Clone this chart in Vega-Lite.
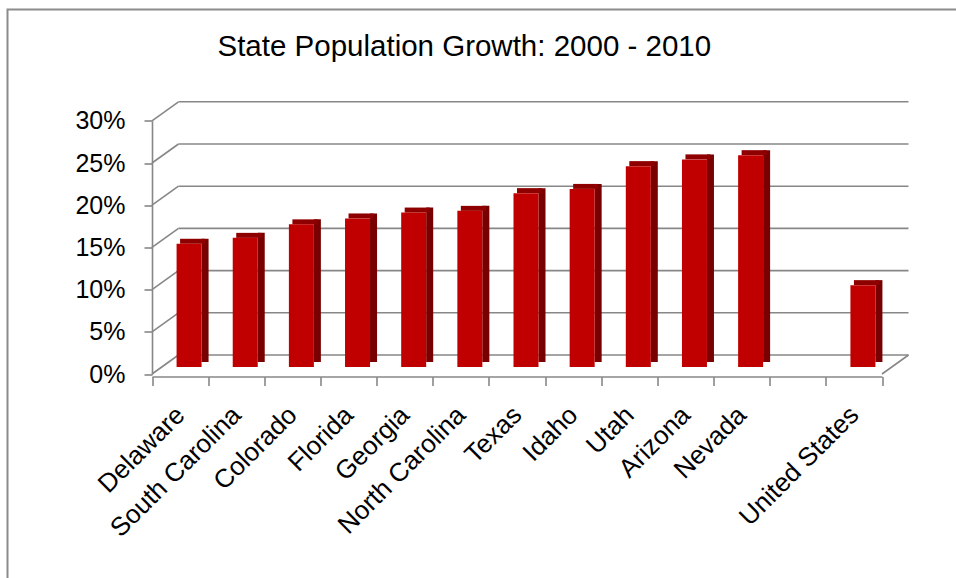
{
  "$schema": "https://vega.github.io/schema/vega-lite/v6.json",
  "autosize": {"type": "none"},
  "padding": {"left": 7.5, "top": 9.5, "right": 0, "bottom": 0},
  "width": 951,
  "height": 571,
  "background": "white",
  "config": {
    "view": {"stroke": "#8c8c8c", "strokeWidth": 2},
    "font": "Liberation Sans"
  },
  "title": {
    "text": "State Population Growth: 2000 - 2010",
    "font": "Liberation Sans",
    "fontSize": 29.5,
    "fontWeight": "normal",
    "color": "#000000",
    "anchor": "start",
    "frame": "group",
    "baseline": "alphabetic",
    "offset": 0,
    "dy": 76,
    "dx": 210
  },
  "datasets": {
    "states": [
      {"state": "Delaware", "growth": 0.146},
      {"state": "South Carolina", "growth": 0.153},
      {"state": "Colorado", "growth": 0.169},
      {"state": "Florida", "growth": 0.176},
      {"state": "Georgia", "growth": 0.183},
      {"state": "North Carolina", "growth": 0.185},
      {"state": "Texas", "growth": 0.206},
      {"state": "Idaho", "growth": 0.211},
      {"state": "Utah", "growth": 0.238},
      {"state": "Arizona", "growth": 0.246},
      {"state": "Nevada", "growth": 0.251},
      {"state": "United States", "growth": 0.097}
    ],
    "grid": [
      {"v": 0}, {"v": 0.05}, {"v": 0.1}, {"v": 0.15}, {"v": 0.2}, {"v": 0.25}, {"v": 0.3}
    ]
  },
  "layer": [
    {
      "data": {"name": "grid"},
      "mark": {"type": "rule", "color": "#878787", "strokeWidth": 1.6, "xOffset": -1.58, "x2Offset": 54.58, "yOffset": -19},
      "encoding": {
        "x": {"datum": "Delaware", "type": "nominal"},
        "x2": {"datum": "United States"},
        "y": {"field": "v", "type": "quantitative"}
      }
    },
    {
      "data": {"name": "grid"},
      "mark": {"type": "rule", "color": "#878787", "strokeWidth": 1.6, "xOffset": -28.08, "x2Offset": -1.58, "y2Offset": -19},
      "encoding": {
        "x": {"datum": "Delaware", "type": "nominal"},
        "x2": {"datum": "Delaware"},
        "y": {"field": "v", "type": "quantitative"},
        "y2": {"field": "v"}
      }
    },
    {
      "data": {"name": "grid"},
      "transform": [{"filter": "datum.v == 0"}],
      "mark": {"type": "rule", "color": "#878787", "strokeWidth": 1.6, "xOffset": 28.08, "x2Offset": 54.58, "y2Offset": -19},
      "encoding": {
        "x": {"datum": "United States", "type": "nominal"},
        "x2": {"datum": "United States"},
        "y": {"field": "v", "type": "quantitative"},
        "y2": {"field": "v"}
      }
    },
    {
      "data": {"name": "states"},
      "mark": {"type": "bar", "color": "#780000", "width": 7, "xOffset": 25, "yOffset": -12, "y2Offset": -7},
      "encoding": {
        "x": {"field": "state", "type": "nominal"},
        "y": {"field": "growth", "type": "quantitative"}
      }
    },
    {
      "data": {"name": "states"},
      "mark": {"type": "bar", "color": "#8e0000", "width": 25, "xOffset": 12.5, "yOffset": -12, "y2Offset": -7},
      "encoding": {
        "x": {"field": "state", "type": "nominal"},
        "y": {"field": "growth", "type": "quantitative"},
        "y2": {"field": "growth"}
      }
    },
    {
      "data": {"name": "states"},
      "mark": {"type": "bar", "color": "#c00000", "width": 25, "xOffset": 9, "yOffset": -7, "y2Offset": -7},
      "encoding": {
        "x": {
          "field": "state",
          "type": "nominal",
          "sort": null,
          "scale": {
            "domain": ["Delaware", "South Carolina", "Colorado", "Florida", "Georgia", "North Carolina", "Texas", "Idaho", "Utah", "Arizona", "Nevada", "", "United States"],
            "range": [144.5, 874.5],
            "paddingInner": 0,
            "paddingOuter": 0
          },
          "axis": {
            "title": null,
            "offset": -204,
            "tickBand": "extent",
            "domainColor": "#878787",
            "domainWidth": 1.6,
            "tickColor": "#878787",
            "tickWidth": 1.6,
            "tickSize": 9,
            "labelAngle": -45,
            "labelFont": "Liberation Sans",
            "labelFontSize": 26,
            "labelColor": "#000000",
            "labelPadding": 25,
            "labelOverlap": false,
            "labelBound": false,
            "labelFlush": false,
            "grid": false
          }
        },
        "y": {
          "field": "growth",
          "type": "quantitative",
          "scale": {"domain": [0, 0.3], "range": [364.5, 111.3], "nice": false, "zero": true},
          "axis": {
            "title": null,
            "offset": -144.5,
            "values": [0, 0.05, 0.1, 0.15, 0.2, 0.25, 0.3],
            "format": ".0%",
            "grid": false,
            "domainColor": "#878787",
            "domainWidth": 1.6,
            "tickColor": "#878787",
            "tickWidth": 1.6,
            "tickSize": 8,
            "labelFont": "Liberation Sans",
            "labelFontSize": 25,
            "labelColor": "#000000",
            "labelPadding": 19,
            "labelOverlap": false,
            "labelBound": false,
            "labelFlush": false
          }
        }
      }
    }
  ]
}
